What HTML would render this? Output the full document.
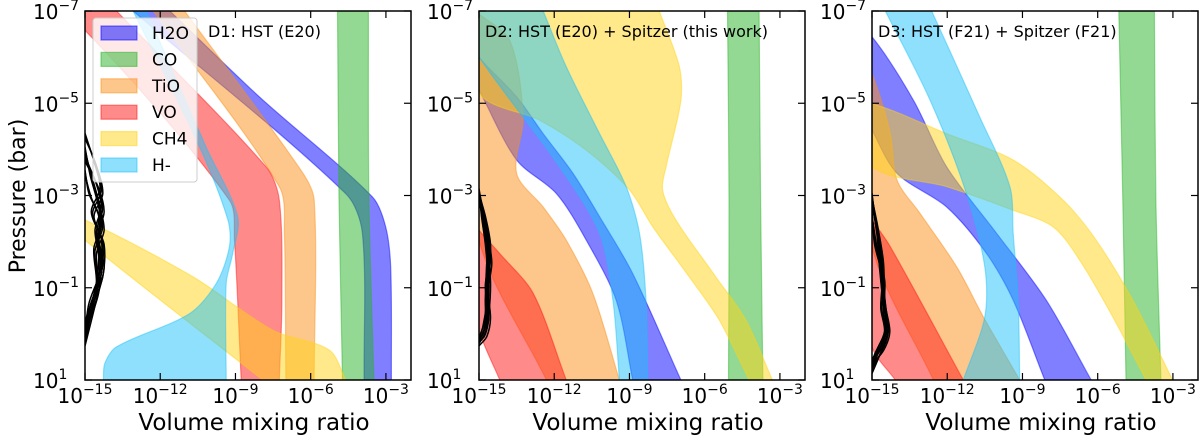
<!DOCTYPE html>
<html><head><meta charset="utf-8">
<style>
html,body{margin:0;padding:0;background:#fff;}
svg{display:block;font-family:"DejaVu Sans","Liberation Sans",sans-serif;}
</style></head>
<body>
<svg id="chart" width="1200" height="439" viewBox="0 0 1200 439" xmlns="http://www.w3.org/2000/svg">
<text transform="translate(25,196) rotate(-90)" text-anchor="middle" font-size="22">Pressure (bar)</text>
</svg>
<script>
// ---- data (log10 pressure [bar], log10 VMR) ----
const species = ["H2O","CO","TiO","VO","CH4","H-"];
const colors = ["#0000ff","#28b428","#fb8f17","#ff1515","#ffd315","#1dc1f9"];
const panelTitles = ["D1: HST (E20)","D2: HST (E20) + Spitzer (this work)","D3: HST (F21) + Spitzer (F21)"];
const xTickVals = [-15,-12,-9,-6,-3];
const yTickVals = [-7,-5,-3,-1,1];

// Panel 1 edges: [logP, logVMR]
const p1_H2O_left = [[-7,-13.08],[-3.04,-4.6],[-2.18,-3.94],[1,-3.87]];
const p1_H2O_right = [[-7,-11.62],[-5.14,-8.05],[-2.97,-3.54],[-2.32,-3.01],[-1.45,-2.81],[1,-2.78]];
const p1_CO_left = [[-7,-4.93],[-2.9,-4.87],[1,-4.73]];
const p1_CO_right = [[-7,-3.7],[-2.9,-3.68],[1,-3.48]];
const p1_TiO_left = [[-7,-12.28],[-3.19,-7.25],[-2.18,-7.05],[1,-6.99]];
const p1_TiO_right = [[-7,-11.03],[-3.55,-6.39],[-2.9,-5.86],[1,-5.86]];
const p1_VO_left = [[-7,-16.5],[-6.58,-15],[-2.9,-9.24],[-2.03,-9.04],[1,-8.77]];
const p1_VO_right = [[-7,-13.74],[-3.62,-7.78],[-2.9,-7.25],[-0.73,-7.15],[1,-7.25]];
const p1_CH4_left = [[-2.6,-16],[-2.03,-15],[1,-7.91]];
const p1_CH4_right = [[-2.6,-16],[-2.47,-15],[-1.24,-10.7],[-0.08,-7.52],[0.35,-5.26],[1,-4.6]];
const p1_Hm_left = [[-7,-13.08],[-4.05,-10.43],[-2.47,-9.3],[-1.89,-9.24],[-1.09,-9.77],[-0.44,-10.83],[0.28,-13.74],[0.64,-14.21],[1,-14.27]];
const p1_Hm_right = [[-7,-12.55],[-4.05,-10.17],[-2.54,-8.91],[-1.74,-9.11],[-1.09,-9.37],[1,-9.37]];

// Panel 2 edges
const p2_H2O_left = [[-6.2,-16],[-5.28,-15],[-3.77,-13.5],[-3.04,-11.91],[-2.03,-10.72],[-0.73,-9.53],[1,-8.87]];
const p2_H2O_right = [[-6.8,-16],[-6.0,-15],[-5.14,-13.5],[-4.34,-12.44],[-3.48,-11.25],[-2.54,-10.19],[-1.31,-8.87],[1,-6.95]];
const p2_CO_left = [[-7,-5.09],[-2.9,-5.03],[1,-5.05]];
const p2_CO_right = [[-7,-3.83],[-2.9,-3.77],[1,-3.68]];
const p2_TiO_left = [[-7,-16],[-2.03,-15],[1,-12.31]];
const p2_TiO_right = [[-7,-15.1],[-6.94,-15],[-6.36,-13.77],[-4.7,-13.24],[-3.48,-13.5],[-2.75,-12.44],[-2.03,-11.52],[-0.88,-10.46],[1,-9.4]];
const p2_VO_left = [[-2.5,-16],[-0.08,-15],[1,-14.17]];
const p2_VO_right = [[-2.5,-15.3],[-2.25,-15],[-1.74,-14.17],[-0.88,-12.84],[1,-11.52]];
const p2_CH4_left = [[-7,-16],[-5.21,-15],[-4.63,-12.58],[-3.98,-10.72],[-3.12,-9.0],[-2.32,-8.07],[-1.24,-6.62],[-0.3,-5.42],[1,-4.23]];
const p2_CH4_right = [[-7,-7.81],[-5.79,-7.01],[-5.06,-6.95],[-3.62,-7.54],[-3.12,-7.68],[-2.47,-7.15],[-1.24,-5.56],[-0.3,-4.36],[1,-3.3]];
const p2_Hm_left = [[-7,-16],[-6.0,-15],[-3.62,-11.78],[-2.18,-10.19],[-0.73,-9.66],[1,-9.4]];
const p2_Hm_right = [[-7,-12.44],[-5.79,-11.52],[-4.34,-10.19],[-3.19,-9.13],[-2.18,-8.6],[-0.73,-8.34],[1,-8.27]];

// Panel 3 edges
const p3_H2O_left = [[-5.5,-16],[-4.42,-15],[-3.48,-14.0],[-2.75,-12.02],[-1.74,-10.43],[-0.73,-9.37],[1,-8.11]];
const p3_H2O_right = [[-7,-16.2],[-6.44,-15],[-5.06,-13.34],[-3.62,-12.02],[-2.18,-10.03],[-0.73,-8.05],[1,-6.26]];
const p3_CO_left = [[-7,-5.16],[-2.9,-5.0],[1,-4.87]];
const p3_CO_right = [[-7,-3.74],[-2.9,-3.68],[1,-3.48]];
const p3_TiO_left = [[-7,-16],[-1.89,-15],[1,-12.55]];
const p3_TiO_right = [[-6,-15.5],[-5.64,-15],[-4.34,-14.27],[-3.33,-14.0],[-2.61,-13.08],[-1.45,-11.62],[-0.37,-10.56],[1,-9.11]];
const p3_VO_left = [[-2.6,-16],[0.28,-15],[1,-14.07]];
const p3_VO_right = [[-2.6,-15.2],[-2.47,-15],[-1.89,-14.27],[1,-11.36]];
const p3_CH4_left = [[-5.0,-16.5],[-3.62,-15],[-3.19,-12.02],[-2.68,-9.37],[-2.32,-7.78],[-1.6,-6.72],[-0.37,-5.4],[1,-4.07]];
const p3_CH4_right = [[-5.0,-16.5],[-4.99,-15],[-4.34,-12.02],[-3.77,-9.37],[-2.9,-7.38],[-2.03,-6.06],[-0.73,-4.6],[1,-3.01]];
const p3_Hm_left = [[-7,-14.47],[-5.06,-12.68],[-3.04,-11.23],[-1.45,-10.5],[-0.37,-10.5],[1,-11.36]];
const p3_Hm_right = [[-7,-12.62],[-4.7,-10.7],[-3.19,-9.5],[-2.18,-9.37],[-0.73,-9.17],[1,-9.11]];

// Black profile curves [logP, logVMR]
const p1_curves = [
 [[-4.3,-15],[-3.7,-14.6],[-3.1,-14.35],[-2.6,-14.7],[-2.0,-14.3],[-1.3,-14.35],[-0.6,-14.8],[0.1,-15]],
 [[-4.0,-15],[-3.4,-14.75],[-2.8,-14.45],[-2.3,-14.3],[-1.8,-14.6],[-1.0,-14.5],[-0.3,-14.9],[0.0,-15]],
 [[-3.5,-15],[-3.0,-14.8],[-2.5,-14.4],[-2.1,-14.5],[-1.5,-14.3],[-0.8,-14.6],[0.2,-15]],
 [[-3.8,-15],[-3.2,-14.5],[-2.7,-14.3],[-2.2,-14.55],[-1.6,-14.4],[-0.9,-14.55],[-0.2,-15]]
];
const p2_curves = [
 [[-3.1,-15],[-2.6,-14.8],[-2.0,-14.6],[-1.4,-14.65],[-0.7,-14.7],[-0.3,-14.7],[0.0,-14.85],[0.1,-15]],
 [[-3.0,-15],[-2.5,-14.85],[-1.9,-14.7],[-1.2,-14.6],[-0.6,-14.65],[-0.1,-14.8],[0.15,-15]],
 [[-2.9,-15],[-2.3,-14.75],[-1.6,-14.55],[-1.0,-14.7],[-0.4,-14.6],[0.0,-14.75],[0.2,-15]]
];
const p3_curves = [
 [[-3.0,-15],[-2.3,-14.8],[-1.6,-14.6],[-0.8,-14.55],[-0.2,-14.4],[0.1,-14.5],[0.5,-14.85],[0.7,-15]],
 [[-2.8,-15],[-2.1,-14.75],[-1.4,-14.65],[-0.6,-14.5],[-0.1,-14.35],[0.3,-14.6],[0.6,-15]],
 [[-2.6,-15],[-1.9,-14.85],[-1.2,-14.55],[-0.5,-14.6],[0.0,-14.45],[0.4,-14.75],[0.8,-15]]
];

const panelBands = [
 [[p1_H2O_left,p1_H2O_right],[p1_CO_left,p1_CO_right],[p1_TiO_left,p1_TiO_right],[p1_VO_left,p1_VO_right],[p1_CH4_left,p1_CH4_right],[p1_Hm_left,p1_Hm_right]],
 [[p2_H2O_left,p2_H2O_right],[p2_CO_left,p2_CO_right],[p2_TiO_left,p2_TiO_right],[p2_VO_left,p2_VO_right],[p2_CH4_left,p2_CH4_right],[p2_Hm_left,p2_Hm_right]],
 [[p3_H2O_left,p3_H2O_right],[p3_CO_left,p3_CO_right],[p3_TiO_left,p3_TiO_right],[p3_VO_left,p3_VO_right],[p3_CH4_left,p3_CH4_right],[p3_Hm_left,p3_Hm_right]]
];
const panelCurves = [p1_curves,p2_curves,p3_curves];

// ---- layout ----
const NS = "http://www.w3.org/2000/svg";
const svg = document.getElementById("chart");
const panelLeft = [85,479,872];
const panelW = 326, panelTop = 11, panelH = 369;
const xMin=-15, xMax=-2, yMin=-7, yMax=1;

function mk(tag, attrs, parent){
  const e=document.createElementNS(NS,tag);
  for(const k in attrs) e.setAttribute(k,attrs[k]);
  (parent||svg).appendChild(e); return e;
}
// smoothed path with length-limited tangents (no overshoot)
function smooth(pts, start){
  const f=v=>v.toFixed(1);
  let d=(start?"M":"L")+f(pts[0][0])+","+f(pts[0][1]);
  const tan=i=>{
    const a=pts[Math.max(0,i-1)], b=pts[Math.min(pts.length-1,i+1)];
    const dx=b[0]-a[0], dy=b[1]-a[1], n=Math.hypot(dx,dy)||1;
    return [dx/n,dy/n];
  };
  for(let i=0;i<pts.length-1;i++){
    const p1=pts[i], p2=pts[i+1];
    const len=Math.hypot(p2[0]-p1[0],p2[1]-p1[1]);
    const t1=tan(i), t2=tan(i+1), k=len*0.3;
    d+="C"+f(p1[0]+t1[0]*k)+","+f(p1[1]+t1[1]*k)+" "+f(p2[0]-t2[0]*k)+","+f(p2[1]-t2[1]*k)+" "+f(p2[0])+","+f(p2[1]);
  }
  return d;
}
const defs = mk("defs",{});

panelBands.forEach((bands,pi)=>{
  const L=panelLeft[pi];
  const xs=v=>L+(v-xMin)/(xMax-xMin)*panelW;
  const ys=v=>panelTop+(v-yMin)/(yMax-yMin)*panelH;
  const cp=mk("clipPath",{id:"clip"+pi},defs);
  mk("rect",{x:L,y:panelTop,width:panelW,height:panelH},cp);
  const g=mk("g",{"clip-path":"url(#clip"+pi+")"});
  
  
  bands.forEach((b,si)=>{
    const lp=b[0].map(p=>[xs(p[1]),ys(p[0])]);
    const rp=b[1].slice().reverse().map(p=>[xs(p[1]),ys(p[0])]);
    const d=smooth(lp,true)+smooth(rp,false)+"Z";
    const path=mk("path",{d:d,fill:colors[si],"fill-opacity":0.5,stroke:colors[si],"stroke-opacity":0.45,"stroke-width":1.2,"stroke-linejoin":"round"},g);
    
    
  });
  panelCurves[pi].forEach((c,ci)=>{
    [0,0.06,-0.05].forEach(off=>{
      const pts=c.map(p=>[xs(p[1]+(p[1]>-14.98?off:0)),ys(p[0]+off)]);
      const pl=mk("path",{d:smooth(pts,true),fill:"none",stroke:"#000","stroke-width":1.5,"stroke-linejoin":"round"},g);
      
      
    });
  });
  const fr=mk("rect",{x:L,y:panelTop,width:panelW,height:panelH,fill:"none",stroke:"#000","stroke-width":1.5});
  
  
  xTickVals.forEach(v=>{
    const x=xs(v);
    mk("line",{x1:x,x2:x,y1:panelTop+panelH,y2:panelTop+panelH-7,stroke:"#000","stroke-width":1.2});
    mk("line",{x1:x,x2:x,y1:panelTop,y2:panelTop+7,stroke:"#000","stroke-width":1.2});
    const t=mk("text",{x:x,y:403,"text-anchor":"middle","font-size":20});
    
    
    t.innerHTML="10<tspan dy='-9' font-size='14'>"+(v<0?"\u2212":"")+Math.abs(v)+"</tspan>";
  });
  yTickVals.forEach(v=>{
    const y=ys(v);
    mk("line",{x1:L,x2:L+7,y1:y,y2:y,stroke:"#000","stroke-width":1.2});
    mk("line",{x1:L+panelW,x2:L+panelW-7,y1:y,y2:y,stroke:"#000","stroke-width":1.2});
    const t=mk("text",{x:L-52,y:y+8,"text-anchor":"start","font-size":20});
    
    
    t.innerHTML="10<tspan dy='-9' font-size='14'>"+(v<0?"\u2212":"")+Math.abs(v)+"</tspan>";
  });
  const xl=mk("text",{x:L+panelW/2+6,y:430,"text-anchor":"middle","font-size":23});
  
  
  xl.textContent="Volume mixing ratio";
  const tt=mk("text",{x:pi==0?L+123:L+6,y:37,"font-size":16});
  
  
  tt.textContent=panelTitles[pi];
});

const lg=mk("g",{});


mk("rect",{x:93,y:18,width:104,height:164,rx:3,fill:"#fff","fill-opacity":0.8,stroke:"#ccc","stroke-width":1},lg);
species.forEach((s,i)=>{
  const y=33+i*26.4;
  const r=mk("rect",{x:101,y:y-7,width:36,height:14,fill:colors[i],"fill-opacity":0.5,stroke:colors[i],"stroke-opacity":0.5,"stroke-width":1.2},lg);
  
  
  const t=mk("text",{x:152,y:y+6,"font-size":17},lg);
  
  
  t.textContent=s;
});
</script>
</body></html>
